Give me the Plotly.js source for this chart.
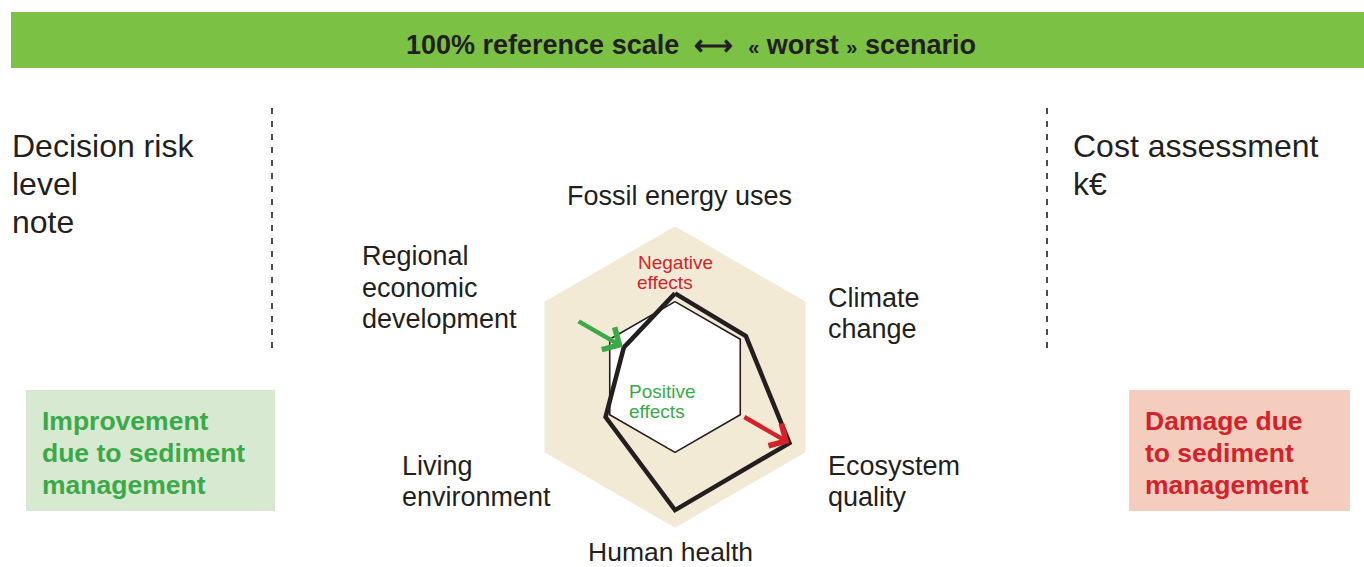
<!DOCTYPE html>
<html>
<head>
<meta charset="utf-8">
<script src="https://cdn.plot.ly/plotly-3.0.1.min.js"></script>
<style>html,body{margin:0;padding:0;background:#fff;}#chart{width:1364px;height:567px;}</style>
</head>
<body>
<div id="chart"></div>
<script>
// ---------- data ----------
const categories = ["Fossil energy uses", "Climate change", "Ecosystem quality",
                    "Human health", "Living environment", "Regional economic development"];
const referenceScale = [1, 1, 1, 1, 1, 1];          // 100% reference scale ("worst" scenario)
const currentState   = [0.5, 0.5, 0.5, 0.5, 0.5, 0.5];
const scenario       = [0.555, 0.543, 0.877, 0.883, 0.532, 0.392];
const improvementAxis = "Regional economic development";
const improvementFromTo = [0.75, 0.40];
const damageAxis = "Ecosystem quality";
const damageFromTo = [0.52, 0.877];

// ---------- helpers ----------
const W = 1364, H = 567;
const px = x => x / W;
const py = y => 1 - y / H;
const close = a => a.concat([a[0]]);

const INK = "#231f20", GREEN = "#3aaa48", RED = "#d3222a";
const FONT = "Liberation Sans, Arial, Helvetica, sans-serif";

const cx = 675, cy = 377, R = 150.7;
const domX = [px(cx - R), px(cx + R)], domY = [py(cy + R), py(cy - R)];

// polar (category, clockwise from top) -> overlaid cartesian frame with the same scale
function toXY(cat, r) {
  const a = categories.indexOf(cat) * 2 * Math.PI / categories.length;
  return [r * Math.sin(a), r * Math.cos(a)];
}
const gFrom = toXY(improvementAxis, improvementFromTo[0]), gTo = toXY(improvementAxis, improvementFromTo[1]);
const rFrom = toXY(damageAxis, damageFromTo[0]), rTo = toXY(damageAxis, damageFromTo[1]);

const traces = [
  { type: "scatterpolar", r: close(referenceScale), theta: close(categories),
    mode: "lines", fill: "toself", fillcolor: "#f3ead5", line: { width: 0, color: "#f3ead5" },
    hoverinfo: "skip" },
  { type: "scatterpolar", r: close(currentState), theta: close(categories),
    mode: "lines", fill: "toself", fillcolor: "#ffffff", line: { width: 1.6, color: INK },
    hoverinfo: "skip" },
  { type: "scatterpolar", r: close(scenario), theta: close(categories),
    mode: "lines", line: { width: 4.5, color: INK }, hoverinfo: "skip" },
  // invisible anchor trace so the overlaid cartesian frame exists
  { type: "scatter", x: [gFrom[0], rFrom[0]], y: [gFrom[1], rFrom[1]], mode: "markers",
    marker: { size: 1, opacity: 0 }, hoverinfo: "skip", xaxis: "x", yaxis: "y" }
];

const annotations = [];
function ann(text, x, y, o) {
  o = o || {};
  annotations.push({
    text: text, xref: "paper", yref: "paper", x: px(x), y: py(y),
    xanchor: o.xanchor || "left", yanchor: "middle", showarrow: false,
    font: { family: FONT, size: o.size || 27, color: o.color || INK }
  });
}
function arrow(from, to, color) {
  annotations.push({
    xref: "x", yref: "y", axref: "x", ayref: "y",
    x: to[0], y: to[1], ax: from[0], ay: from[1],
    showarrow: true, arrowhead: 4, arrowsize: 1.1, arrowwidth: 4.5, arrowcolor: color,
    standoff: 0, startstandoff: 0, text: ""
  });
}
arrow(gFrom, gTo, GREEN);
arrow(rFrom, rTo, RED);

// header
ann("<b>100% reference scale  ⟷  <span style='font-size:20px'>«</span> worst <span style='font-size:20px'>»</span> scenario</b>",
    691, 45, { xanchor: "center", size: 27 });

// left / right headings
ann("Decision risk", 10, 146, { size: 32 });
ann("level", 10, 184, { size: 32 });
ann("note", 10, 222, { size: 32 });
ann("Cost assessment", 1071, 146, { size: 32 });
ann("k€", 1071, 184, { size: 32 });

// boxes text
ann("<b>Improvement</b>", 40, 421, { color: GREEN, size: 26.5 });
ann("<b>due to sediment</b>", 40, 453, { color: GREEN, size: 26.5 });
ann("<b>management</b>", 40, 485, { color: GREEN, size: 26.5 });
ann("<b>Damage due</b>", 1143, 421, { color: RED, size: 26.5 });
ann("<b>to sediment</b>", 1143, 453, { color: RED, size: 26.5 });
ann("<b>management</b>", 1143, 485, { color: RED, size: 26.5 });

// axis labels
ann("Fossil energy uses", 679, 196, { xanchor: "center" });
ann("Regional", 360, 256); ann("economic", 360, 288); ann("development", 360, 319);
ann("Climate", 826, 298); ann("change", 826, 329);
ann("Ecosystem", 826, 466); ann("quality", 826, 497);
ann("Living", 400, 466); ann("environment", 400, 497);
ann("Human health", 670, 552, { xanchor: "center", size: 26.5 });

// effects
ann("Negative", 675, 262, { xanchor: "center", size: 19, color: RED });
ann("effects", 665, 282, { xanchor: "center", size: 19, color: RED });
ann("Positive", 627, 391, { size: 19, color: GREEN });
ann("effects", 627, 411, { size: 19, color: GREEN });

const shapes = [
  { type: "rect", xref: "paper", yref: "paper", x0: px(11), x1: px(1364), y0: py(68), y1: py(12),
    fillcolor: "#7bc143", line: { width: 0 }, layer: "below" },
  { type: "rect", xref: "paper", yref: "paper", x0: px(26), x1: px(275), y0: py(511), y1: py(390),
    fillcolor: "#d8e9d2", line: { width: 0 }, layer: "below" },
  { type: "rect", xref: "paper", yref: "paper", x0: px(1129), x1: px(1350), y0: py(511), y1: py(390),
    fillcolor: "#f4cdbf", line: { width: 0 }, layer: "below" },
  { type: "line", xref: "paper", yref: "paper", x0: px(272), x1: px(272), y0: py(108), y1: py(349),
    line: { color: INK, width: 1.6, dash: "6px,7px" } },
  { type: "line", xref: "paper", yref: "paper", x0: px(1047), x1: px(1047), y0: py(108), y1: py(349),
    line: { color: INK, width: 1.6, dash: "6px,7px" } }
];

const layout = {
  width: W, height: H, margin: { l: 0, r: 0, t: 0, b: 0 },
  paper_bgcolor: "#ffffff", plot_bgcolor: "rgba(0,0,0,0)", showlegend: false,
  xaxis: { domain: domX, range: [-1, 1], visible: false, fixedrange: true },
  yaxis: { domain: domY, range: [-1, 1], visible: false, fixedrange: true },
  polar: {
    domain: { x: domX, y: domY },
    bgcolor: "rgba(0,0,0,0)",
    radialaxis: { visible: false, range: [0, 1] },
    angularaxis: { type: "category", categoryarray: categories, direction: "clockwise", rotation: 90,
                   showline: false, showgrid: false, showticklabels: false, ticks: "" }
  },
  shapes: shapes,
  annotations: annotations
};

Plotly.newPlot("chart", traces, layout, { staticPlot: true, displayModeBar: false });
</script>
</body>
</html>
